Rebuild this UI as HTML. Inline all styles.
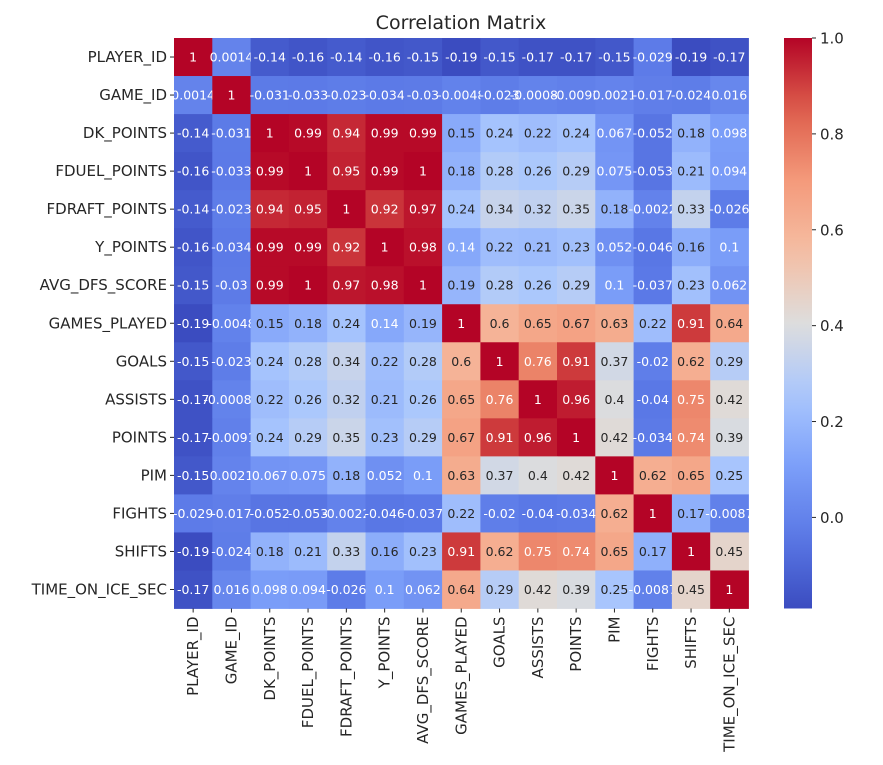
<!DOCTYPE html>
<html><head><meta charset="utf-8"><style>
body{margin:0;background:#fff;font-family:"Liberation Sans","DejaVu Sans",sans-serif;}
</style></head><body>
<svg id="chart" width="883" height="760" font-family="DejaVu Sans, Liberation Sans, sans-serif">
<defs><linearGradient id="cbgrad" x1="0" y1="1" x2="0" y2="0"></linearGradient></defs>
<text x="461" y="29" text-anchor="middle" font-size="19" fill="#262626">Correlation Matrix</text>
<g id="cells"></g><g id="ylabels"></g><g id="xlabels"></g><g id="cbar"></g>
</svg>
<script>
const labels = ["PLAYER_ID","GAME_ID","DK_POINTS","FDUEL_POINTS","FDRAFT_POINTS","Y_POINTS","AVG_DFS_SCORE","GAMES_PLAYED","GOALS","ASSISTS","POINTS","PIM","FIGHTS","SHIFTS","TIME_ON_ICE_SEC"];
const rowPlayerId = [1,0.0014,-0.14,-0.16,-0.14,-0.16,-0.15,-0.19,-0.15,-0.17,-0.17,-0.15,-0.029,-0.19,-0.17];
const rowGameId = [0.0014,1,-0.031,-0.033,-0.023,-0.034,-0.03,-0.0048,-0.023,-0.00088,-0.0091,0.0021,-0.017,-0.024,0.016];
const rowDk = [-0.14,-0.031,1,0.99,0.94,0.99,0.99,0.15,0.24,0.22,0.24,0.067,-0.052,0.18,0.098];
const rowFduel = [-0.16,-0.033,0.99,1,0.95,0.99,1,0.18,0.28,0.26,0.29,0.075,-0.053,0.21,0.094];
const rowFdraft = [-0.14,-0.023,0.94,0.95,1,0.92,0.97,0.24,0.34,0.32,0.35,0.18,-0.0022,0.33,-0.026];
const rowY = [-0.16,-0.034,0.99,0.99,0.92,1,0.98,0.14,0.22,0.21,0.23,0.052,-0.046,0.16,0.1];
const rowAvg = [-0.15,-0.03,0.99,1,0.97,0.98,1,0.19,0.28,0.26,0.29,0.1,-0.037,0.23,0.062];
const rowGp = [-0.19,-0.0048,0.15,0.18,0.24,0.14,0.19,1,0.6,0.65,0.67,0.63,0.22,0.91,0.64];
const rowGoals = [-0.15,-0.023,0.24,0.28,0.34,0.22,0.28,0.6,1,0.76,0.91,0.37,-0.02,0.62,0.29];
const rowAssists = [-0.17,-0.00088,0.22,0.26,0.32,0.21,0.26,0.65,0.76,1,0.96,0.4,-0.04,0.75,0.42];
const rowPoints = [-0.17,-0.0091,0.24,0.29,0.35,0.23,0.29,0.67,0.91,0.96,1,0.42,-0.034,0.74,0.39];
const rowPim = [-0.15,0.0021,0.067,0.075,0.18,0.052,0.1,0.63,0.37,0.4,0.42,1,0.62,0.65,0.25];
const rowFights = [-0.029,-0.017,-0.052,-0.053,-0.0022,-0.046,-0.037,0.22,-0.02,-0.04,-0.034,0.62,1,0.17,-0.0087];
const rowShifts = [-0.19,-0.024,0.18,0.21,0.33,0.16,0.23,0.91,0.62,0.75,0.74,0.65,0.17,1,0.45];
const rowToi = [-0.17,0.016,0.098,0.094,-0.026,0.1,0.062,0.64,0.29,0.42,0.39,0.25,-0.0087,0.45,1];
const cbTicks = [0.0,0.2,0.4,0.6,0.8,1.0];
const matrix=[rowPlayerId,rowGameId,rowDk,rowFduel,rowFdraft,rowY,rowAvg,rowGp,rowGoals,rowAssists,rowPoints,rowPim,rowFights,rowShifts,rowToi];

const NS="http://www.w3.org/2000/svg";
const L=174,T=38,W=574.5,H=570.5;
const n=labels.length,cw=W/n,ch=H/n;
let vmin=Infinity,vmax=-Infinity;
matrix.forEach(r=>r.forEach(v=>{vmin=Math.min(vmin,v);vmax=Math.max(vmax,v);}));
const cm=[[0,59,76,192],[0.125,90,120,230],[0.25,124,159,249],[0.375,170,199,253],[0.5,221,221,221],[0.625,245,190,163],[0.75,244,154,123],[0.875,221,94,75],[1,180,4,38]];
function cmap(t){t=Math.max(0,Math.min(1,t));for(let i=1;i<cm.length;i++){if(t<=cm[i][0]){const a=cm[i-1],b=cm[i],f=(t-a[0])/(b[0]-a[0]);return [1,2,3].map(k=>Math.round(a[k]+(b[k]-a[k])*f));}}return cm[cm.length-1].slice(1);}
function lum(c){const l=c.map(x=>{x/=255;return x<=0.03928?x/12.92:Math.pow((x+0.055)/1.055,2.4);});return 0.2126*l[0]+0.7152*l[1]+0.0722*l[2];}
function el(tag,attrs,parent){const e=document.createElementNS(NS,tag);for(const k in attrs)e.setAttribute(k,attrs[k]);parent.appendChild(e);return e;}
const xS=i=>L+i*cw, yS=i=>T+i*ch;
const cells=document.getElementById('cells');
matrix.forEach((row,i)=>row.forEach((v,j)=>{
  const c=cmap((v-vmin)/(vmax-vmin));
  const r=el('rect',{x:xS(j),y:yS(i),width:cw+0.4,height:ch+0.4,fill:`rgb(${c})`},cells);
  
  
  const t=el('text',{x:xS(j)+cw/2,y:yS(i)+ch/2+4.5,'text-anchor':'middle','font-size':12.5,fill:lum(c)>0.408?'#262626':'#ffffff'},cells);
  t.textContent=String(parseFloat(v.toPrecision(2)));
  
  
}));
const yl=document.getElementById('ylabels'),xl=document.getElementById('xlabels');
labels.forEach((lb,i)=>{
  const y=yS(i)+ch/2;
  el('line',{x1:L-4,x2:L,y1:y,y2:y,stroke:'#262626','stroke-width':1},yl);
  const t=el('text',{x:L-7,y:y+5,'text-anchor':'end','font-size':15,fill:'#262626'},yl);
  t.textContent=lb;
  
  
  const x=xS(i)+cw/2;
  el('line',{x1:x,x2:x,y1:T+H,y2:T+H+4,stroke:'#262626','stroke-width':1},xl);
  const u=el('text',{x:0,y:0,'text-anchor':'end','font-size':15,fill:'#262626',transform:`translate(${x+5},${T+H+8}) rotate(-90)`},xl);
  u.textContent=lb;
  
  
});
const grad=document.getElementById('cbgrad');
for(let k=0;k<=20;k++){const c=cmap(k/20);el('stop',{offset:k/20,'stop-color':`rgb(${c})`},grad);}
const cb=document.getElementById('cbar');
const CBX=784,CBW=28;
const cbY=v=>T+H-(v-vmin)/(vmax-vmin)*H;
const bar=el('rect',{x:CBX,y:T,width:CBW,height:H,fill:'url(#cbgrad)'},cb);


cbTicks.forEach(v=>{
  const y=cbY(v);
  el('line',{x1:CBX+CBW,x2:CBX+CBW+4,y1:y,y2:y,stroke:'#262626','stroke-width':1},cb);
  const t=el('text',{x:CBX+CBW+8,y:y+5.5,'font-size':15,fill:'#262626'},cb);
  t.textContent=v.toFixed(1);
  
  
});
</script>
</body></html>
